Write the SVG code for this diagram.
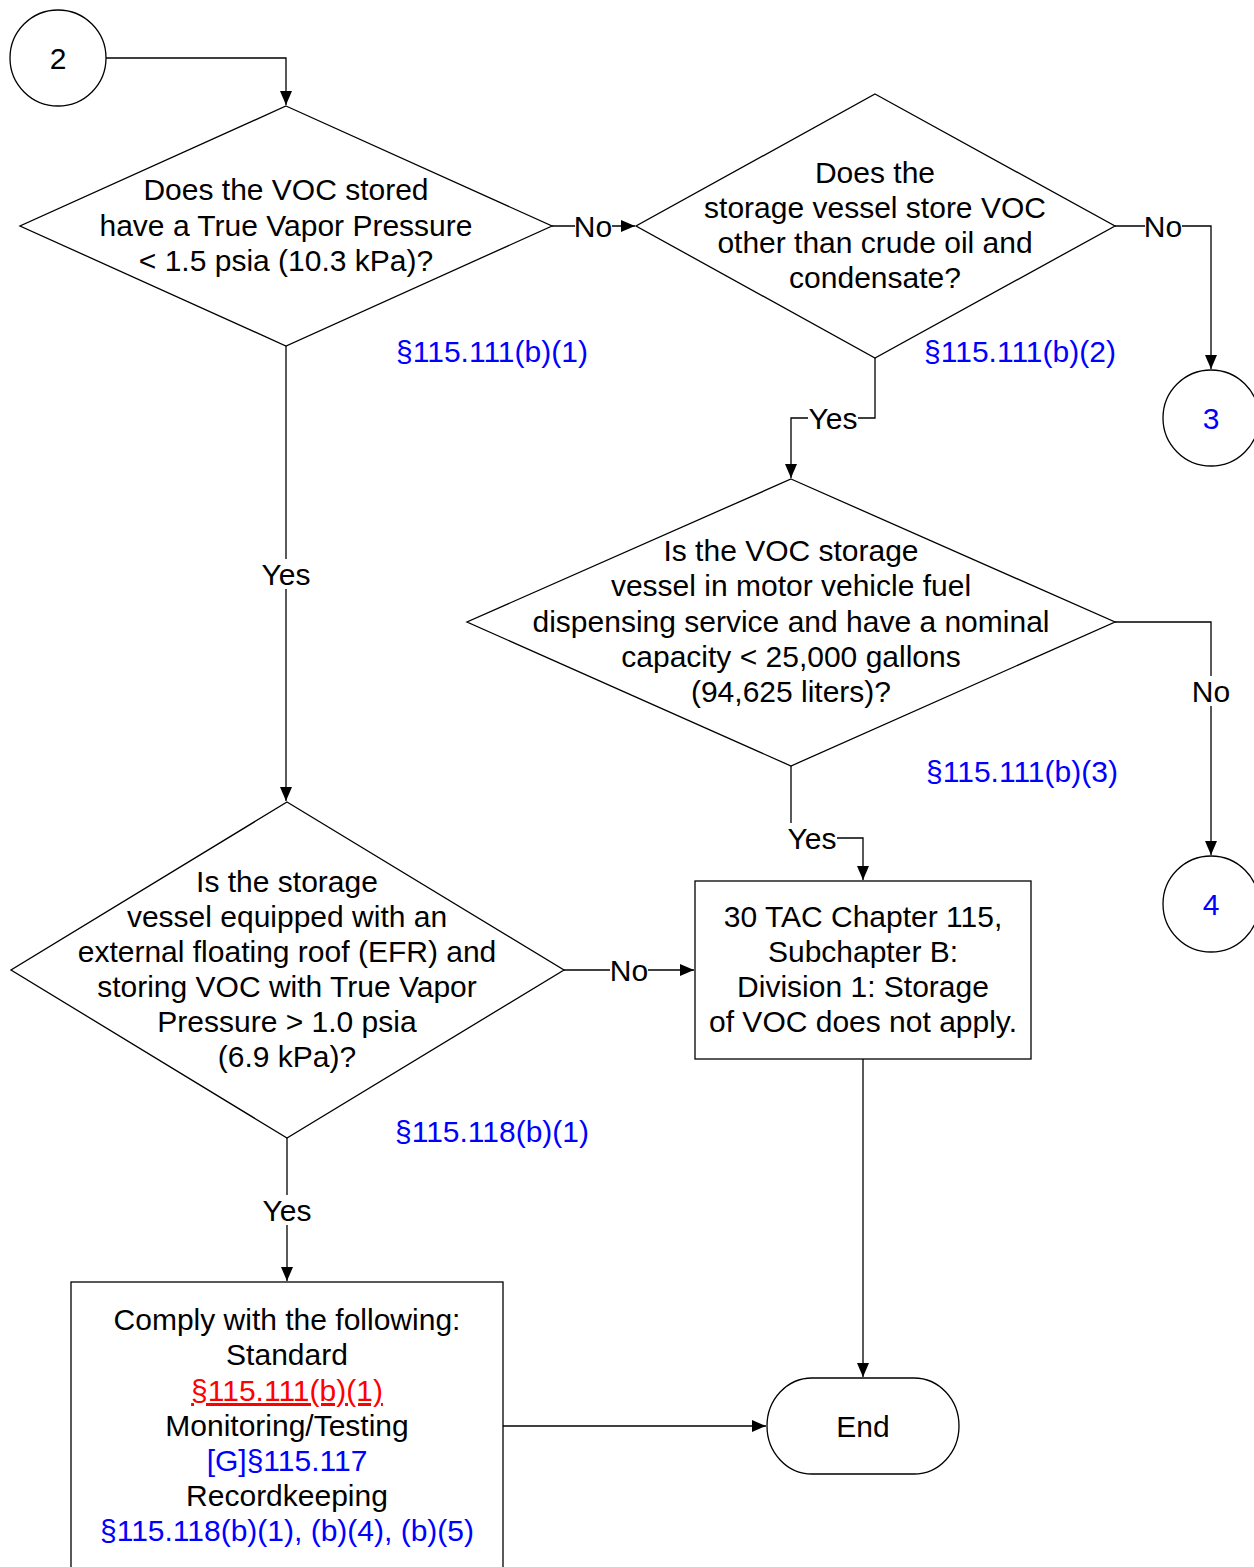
<svg xmlns="http://www.w3.org/2000/svg" width="1254" height="1567" viewBox="0 0 1254 1567">
<style>
.s{fill:#fff;stroke:#000;stroke-width:1.3}
.t{font-family:"Liberation Sans",Arial,sans-serif;font-size:30px;fill:#000;text-anchor:middle}
.b{fill:#0000ff}
.r{fill:#ff0000;text-decoration:underline}
.c{fill:none;stroke:#000;stroke-width:1.3}
.lb{fill:#fff;stroke:none}
</style>
<defs>
<marker id="a" markerUnits="userSpaceOnUse" markerWidth="15" markerHeight="13" refX="14" refY="6" orient="auto">
<path d="M0,0 L14,6 L0,12 z" fill="#000"/>
</marker>
</defs>
<rect width="1254" height="1567" fill="#fff"/>
<g id="connectors">
<path class="c" d="M106,58 H286 V105" marker-end="url(#a)"/>
<path class="c" d="M552,226 H635" marker-end="url(#a)"/>
<path class="c" d="M1115,226 H1211 V369" marker-end="url(#a)"/>
<path class="c" d="M875,358 V418 H791 V478" marker-end="url(#a)"/>
<path class="c" d="M1115,622 H1211 V855" marker-end="url(#a)"/>
<path class="c" d="M791,766 V838 H863 V880" marker-end="url(#a)"/>
<path class="c" d="M286,346 V801" marker-end="url(#a)"/>
<path class="c" d="M564,970 H694" marker-end="url(#a)"/>
<path class="c" d="M287,1138 V1281" marker-end="url(#a)"/>
<path class="c" d="M863,1059 V1377" marker-end="url(#a)"/>
<path class="c" d="M503,1426 H766" marker-end="url(#a)"/>
<rect class="lb" x="575" y="211" width="37" height="30"/>
<text class="t" x="593" y="237">No</text>
<rect class="lb" x="1145" y="211" width="37" height="30"/>
<text class="t" x="1163" y="237">No</text>
<rect class="lb" x="808" y="403" width="50" height="30"/>
<text class="t" x="833" y="429">Yes</text>
<rect class="lb" x="1192" y="676" width="38" height="30"/>
<text class="t" x="1211" y="702">No</text>
<rect class="lb" x="787" y="823" width="50" height="30"/>
<text class="t" x="812" y="849">Yes</text>
<rect class="lb" x="260" y="559" width="52" height="30"/>
<text class="t" x="286" y="585">Yes</text>
<rect class="lb" x="610" y="955" width="38" height="30"/>
<text class="t" x="629" y="981">No</text>
<rect class="lb" x="261" y="1195" width="52" height="30"/>
<text class="t" x="287" y="1221">Yes</text>
</g>
<g id="n2">
<circle class="s" cx="58" cy="58" r="48"/>
<text class="t" x="58" y="69">2</text>
</g>
<g id="d1">
<polygon class="s" points="286,106 552,226 286,346 20,226"/>
<text class="t" x="286" y="200">Does the VOC stored</text>
<text class="t" x="286" y="236">have a True Vapor Pressure</text>
<text class="t" x="286" y="271">&lt; 1.5 psia (10.3 kPa)?</text>
</g>
<g id="ref1"><text class="t b" x="492" y="362">§115.111(b)(1)</text></g>
<g id="d2">
<polygon class="s" points="875,94 1115,226 875,358 636,226"/>
<text class="t" x="875" y="183">Does the</text>
<text class="t" x="875" y="218">storage vessel store VOC</text>
<text class="t" x="875" y="253">other than crude oil and</text>
<text class="t" x="875" y="288">condensate?</text>
</g>
<g id="ref2"><text class="t b" x="1020" y="362">§115.111(b)(2)</text></g>
<g id="n3">
<circle class="s" cx="1211" cy="418" r="48"/>
<text class="t b" x="1211" y="429">3</text>
</g>
<g id="d3">
<polygon class="s" points="791,479 1115,622 791,766 467,622"/>
<text class="t" x="791" y="561">Is the VOC storage</text>
<text class="t" x="791" y="596">vessel in motor vehicle fuel</text>
<text class="t" x="791" y="632">dispensing service and have a nominal</text>
<text class="t" x="791" y="667">capacity &lt; 25,000 gallons</text>
<text class="t" x="791" y="702">(94,625 liters)?</text>
</g>
<g id="ref3"><text class="t b" x="1022" y="782">§115.111(b)(3)</text></g>
<g id="n4">
<circle class="s" cx="1211" cy="904" r="48"/>
<text class="t b" x="1211" y="915">4</text>
</g>
<g id="box1">
<rect class="s" x="695" y="881" width="336" height="178"/>
<text class="t" x="863" y="927">30 TAC Chapter 115,</text>
<text class="t" x="863" y="962">Subchapter B:</text>
<text class="t" x="863" y="997">Division 1: Storage</text>
<text class="t" x="863" y="1032">of VOC does not apply.</text>
</g>
<g id="d4">
<polygon class="s" points="287,802 564,970 287,1138 11,970"/>
<text class="t" x="287" y="892">Is the storage</text>
<text class="t" x="287" y="927">vessel equipped with an</text>
<text class="t" x="287" y="962">external floating roof (EFR) and</text>
<text class="t" x="287" y="997">storing VOC with True Vapor</text>
<text class="t" x="287" y="1032">Pressure &gt; 1.0 psia</text>
<text class="t" x="287" y="1067">(6.9 kPa)?</text>
</g>
<g id="ref4"><text class="t b" x="492" y="1142">§115.118(b)(1)</text></g>
<g id="box2">
<rect class="s" x="71" y="1282" width="432" height="300"/>
<text class="t" x="287" y="1330">Comply with the following:</text>
<text class="t" x="287" y="1365">Standard</text>
<text class="t r" x="287" y="1401">§115.111(b)(1)</text>
<text class="t" x="287" y="1436">Monitoring/Testing</text>
<text class="t b" x="287" y="1471">[G]§115.117</text>
<text class="t" x="287" y="1506">Recordkeeping</text>
<text class="t b" x="287" y="1541">§115.118(b)(1), (b)(4), (b)(5)</text>
</g>
<g id="end">
<rect class="s" x="767" y="1378" width="192" height="96" rx="45" ry="48"/>
<text class="t" x="863" y="1437">End</text>
</g>
</svg>
